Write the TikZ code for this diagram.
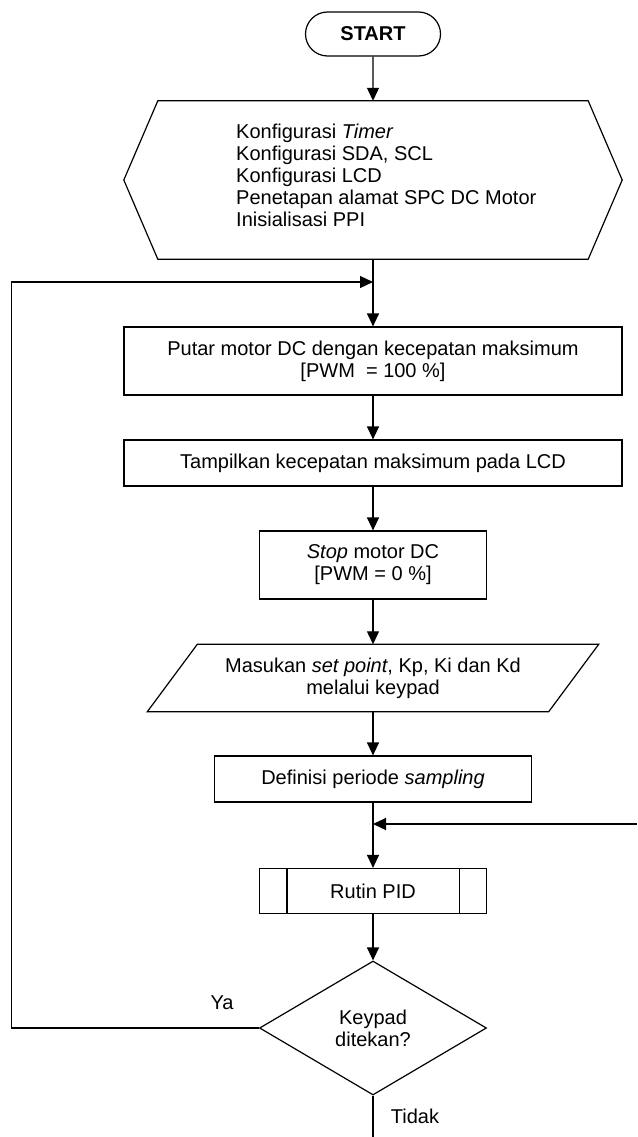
\documentclass[tikz,border=0pt]{standalone}
\usepackage{fontspec}
\setmainfont{Liberation Sans}
\usetikzlibrary{shapes.geometric,shapes.misc,arrows.meta}
\tikzset{
  line/.style={line width=1.2pt},
  arr/.style={line, -{Triangle[length=13pt,width=12pt]}},
  procbox/.style={rectangle, draw, line, align=center, inner sep=0pt},
  termbox/.style={rounded rectangle, draw, line, inner sep=0pt, font=\fontsize{20pt}{22pt}\selectfont\bfseries},
  shapebox/.style={rectangle, inner sep=0pt, align=center},
  decbox/.style={diamond, draw, line, inner sep=0pt, align=center}
}
\begin{document}
\begin{tikzpicture}[x=1pt, y=-1pt, font=\fontsize{20pt}{22pt}\selectfont]
\useasboundingbox (0,0) rectangle (637,1137);
\node[termbox, minimum width=135pt, minimum height=44pt] (start) at (373,34) {START};
\node[shapebox, minimum width=498pt, minimum height=158pt] (init) at (373,180) {};
\node[anchor=west, align=left, inner sep=0pt] (initText) at (236,175) {Konfigurasi \textit{Timer}\\Konfigurasi SDA, SCL\\Konfigurasi LCD\\Penetapan alamat SPC DC Motor\\Inisialisasi PPI};
\node[procbox, minimum width=498pt, minimum height=68pt] (putar) at (373,361) {Putar motor DC dengan kecepatan maksimum\\{}[PWM~~= 100 \%]};
\node[procbox, minimum width=498pt, minimum height=46pt] (tampil) at (373,463) {Tampilkan kecepatan maksimum pada LCD};
\node[procbox, minimum width=227pt, minimum height=68pt] (stop) at (373,565) {\textit{Stop} motor DC\\{}[PWM = 0 \%]};
\node[shapebox, minimum width=401pt, minimum height=67pt] (input) at (373,678) {Masukan \textit{set point}, Kp, Ki dan Kd\\melalui keypad};
\node[procbox, minimum width=317pt, minimum height=46pt] (periode) at (373,779) {Definisi periode \textit{sampling}};
\node[procbox, minimum width=227pt, minimum height=45pt] (rutin) at (373,891) {Rutin PID};
\node[decbox, minimum width=227pt, minimum height=134pt] (keypad) at (373,1028) {Keypad\\ditekan?};
\node (ya) at (222,1003) {Ya};
\node (tidak) at (415,1116) {Tidak};
\coordinate (loopTop) at (11.5,282);
\coordinate (join1) at (373,282);
\coordinate (sideIn) at (637,824);
\coordinate (join2) at (373,824);
\coordinate (exit) at (373,1137);
\draw[line] (init.west) -- ([xshift=34pt]init.north west) -- ([xshift=-34pt]init.north east) -- (init.east) -- ([xshift=-34pt]init.south east) -- ([xshift=34pt]init.south west) -- cycle;
\draw[line] ([xshift=25pt]input.north west) -- ([xshift=25pt]input.north east) -- ([xshift=-25pt]input.south east) -- ([xshift=-25pt]input.south west) -- cycle;
\draw[line] ([xshift=28pt]rutin.north west) -- ([xshift=28pt]rutin.south west);
\draw[line] ([xshift=-28pt]rutin.north east) -- ([xshift=-28pt]rutin.south east);
\draw[arr] (start) -- (init.north);
\draw[arr] (init.south) -- (putar);
\draw[arr] (putar) -- (tampil);
\draw[arr] (tampil) -- (stop);
\draw[arr] (stop) -- (input.north);
\draw[arr] (input.south) -- (periode);
\draw[arr] (periode) -- (rutin);
\draw[arr] (rutin) -- (keypad);
\draw[arr] (keypad.west) -| (loopTop) -- (join1);
\draw[arr] (sideIn) -- (join2);
\draw[line] (keypad.south) -- (exit);
\end{tikzpicture}
\end{document}
